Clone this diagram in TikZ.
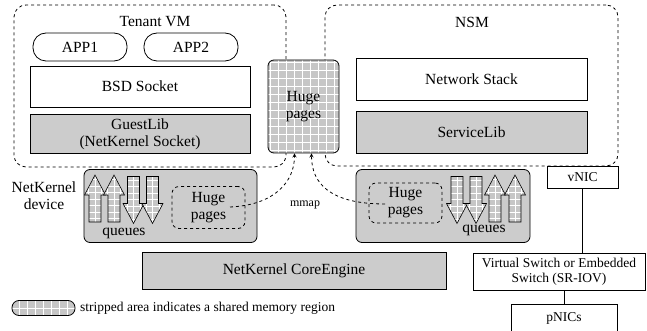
\documentclass[tikz,border=0pt]{standalone}
\usepackage{fontspec}
\setmainfont{Liberation Serif}
\usetikzlibrary{arrows, positioning}

\tikzset{
	shmem/.style = {
		fill = gray!45,
		path picture = {\draw[white, line width = 0.6pt, step = #1]
			(path picture bounding box.south west) grid (path picture bounding box.north east);}
	},
	shmem/.default = 8pt,
	qarrow/.pic = {
		\filldraw[shmem = 6.5pt, line width = 0.6pt] (-6,23) -- (-6,-4) -- (-10.5,-4) -- (0,-24)
			-- (10.5,-4) -- (6,-4) -- (6,23) -- cycle;
	}
}

\begin{document}
\begin{tikzpicture}[
	> = stealth, % arrow head style
	x = 1pt, y = -1pt, % one unit is one pixel, y goes down
	line width = 0.8pt,
	font = \fontsize{15.5}{17}\selectfont
	]
	
	\tikzstyle{vmbox}=[
	draw,
	dashed,
	rounded corners = 12pt,
	inner sep = 0pt
	]
	\tikzstyle{layer}=[
	draw,
	fill = white,
	inner sep = 0pt,
	align = center
	]
	\tikzstyle{libbox}=[
	layer,
	fill = gray!40
	]
	\tikzstyle{small}=[
	font = \fontsize{13.5}{15}\selectfont
	]
	
	\useasboundingbox (0,0) rectangle (647,331);
	
	% the two VMs
	\node[vmbox, minimum width = 272pt, minimum height = 162pt] (vm) at (150,86) {};
	\node at (155,22) {Tenant VM};
	\node[vmbox, minimum width = 293pt, minimum height = 161pt] (nsm) at (471.5,85.5) {};
	\node at (472,22) {NSM};
	
	\node[layer, rounded corners = 13pt, minimum width = 94pt, minimum height = 28pt] (app1) at (80,47) {APP1};
	\node[layer, rounded corners = 13pt, minimum width = 94pt, minimum height = 28pt] (app2) at (191,47) {APP2};
	\node[layer, minimum width = 220pt, minimum height = 41pt] (bsd) at (140,86.5) {BSD Socket};
	\node[libbox, minimum width = 220pt, minimum height = 39pt] (guest) at (140,134) {GuestLib\\(NetKernel Socket)};
	
	\node[layer, minimum width = 231pt, minimum height = 42pt] (stack) at (471.5,79) {Network Stack};
	\node[libbox, minimum width = 231pt, minimum height = 42pt] (service) at (471.5,132) {ServiceLib};
	
	\node[draw, shmem, rounded corners = 6pt, minimum width = 71pt, minimum height = 93pt, align = center] (huge) at (303.5,106.5) {Huge\\pages};
	
	% NetKernel devices
	\node[libbox, rounded corners = 6pt, minimum width = 173pt, minimum height = 73pt] (devL) at (170.5,206) {};
	\node[libbox, rounded corners = 6pt, minimum width = 174pt, minimum height = 73pt] (devR) at (443,206) {};
	\node[align = center] (devlabel) at (44,196) {NetKernel\\device};
	
	\pic (qL1) at (95,199) {qarrow};
	\pic (qL2) at (114,199) {qarrow};
	\pic[rotate = 180] (qL3) at (133.5,199.5) {qarrow};
	\pic[rotate = 180] (qL4) at (152.5,199.5) {qarrow};
	\node (queuesL) at (124,233) {queues};
	
	\pic[rotate = 180] (qR1) at (457,199.5) {qarrow};
	\pic[rotate = 180] (qR2) at (476,199.5) {qarrow};
	\pic (qR3) at (495,199) {qarrow};
	\pic (qR4) at (515,199) {qarrow};
	\node (queuesR) at (484,230) {queues};
	
	\node[vmbox, rounded corners = 7pt, minimum width = 73pt, minimum height = 42pt, align = center] (hugeL) at (208.5,207.5) {Huge\\pages};
	\node[vmbox, rounded corners = 7pt, minimum width = 73pt, minimum height = 40pt, align = center] (hugeR) at (405.5,203) {Huge\\pages};
	
	% mmap of the huge pages
	\coordinate (mL) at (230,207);
	\coordinate (mR) at (385,204);
	\coordinate (hL) at ([xshift = -9pt]huge.south);
	\coordinate (hR) at ([xshift = 8pt]huge.south);
	\draw[->, dashed] (mL) .. controls +(45,-2) and +(0,28) .. (hL);
	\draw[->, dashed] (mR) .. controls +(-55,0) and +(0,30) .. (hR);
	\node[font = \fontsize{12}{14}\selectfont] (mmap) at (305,205) {mmap};
	
	\node[libbox, minimum width = 304pt, minimum height = 37pt] (core) at (294,271) {NetKernel CoreEngine};
	
	% physical side
	\node[layer, small, minimum width = 71pt, minimum height = 22pt] (vnic) at (582.5,177) {vNIC};
	\node[layer, small, minimum width = 172pt, minimum height = 37pt] (switch) at (559,271.5) {Virtual Switch or Embedded\\Switch (SR-IOV)};
	\node[layer, small, minimum width = 106pt, minimum height = 28pt] (pnics) at (564,318) {pNICs};
	\draw (vnic.south) -- (vnic.south |- switch.north);
	\draw (pnics.north) -- (pnics.north |- switch.south);
	
	% legend
	\node[draw, shmem, rounded corners = 7pt, minimum width = 63pt, minimum height = 15pt, inner sep = 0pt] (legend) at (43.5,308) {};
	\node[small, right = 1pt of legend] (legendtext) {stripped area indicates a shared memory region};
	
\end{tikzpicture}
\end{document}
